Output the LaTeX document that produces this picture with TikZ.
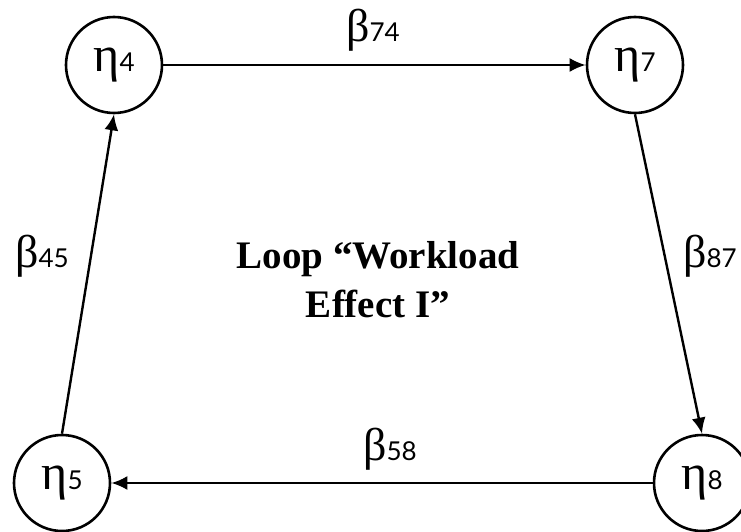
\documentclass[tikz,border=0pt]{standalone}
\usepackage{fontspec}
\setmainfont{Liberation Serif}
\newfontfamily\digitfont{Lato}
\usetikzlibrary{arrows.meta,positioning}

\newcommand{\varname}[1]{{\fontsize{50}{50}\selectfont η}{\digitfont\fontsize{26}{26}\selectfont #1}}
\newcommand{\pathcoef}[1]{{\fontsize{46}{46}\selectfont β}{\digitfont\fontsize{26}{26}\selectfont #1}}

\begin{document}
\begin{tikzpicture}[
  x=1pt, y=-1pt,
  latent/.style={draw, circle, line width=2.6pt, minimum size=96pt, inner sep=0pt},
  coef/.style={anchor=base, inner sep=0pt},
  loopname/.style={align=center, font=\fontsize{39}{49}\selectfont\bfseries},
  path/.style={-{Latex[length=16pt, width=14pt]}, line width=2.4pt}
]
\clip (0,0) rectangle (741,532);

% - latent variables -
\node[latent] (eta4) at (114,65) {\varname{4}};
\node[latent] (eta7) at (635,65) {\varname{7}};
\node[latent] (eta5) at (62,483) {\varname{5}};
\node[latent] (eta8) at (702,483) {\varname{8}};

% - loop title -
\node[loopname] (title) at (378,280) {Loop “Workload\\Effect I”};

% - paths -
\draw[path] (eta4.east) -- (eta7.west);
\draw[path] (eta7.south) -- (eta8.north);
\draw[path] (eta8.west) -- (eta5.east);
\draw[path] (eta5.north) -- (eta4.south);

% - coefficients -
\node[coef] (b74) at (373,42) {\pathcoef{74}};
\node[coef] (b87) at (710,267) {\pathcoef{87}};
\node[coef] (b58) at (390,460) {\pathcoef{58}};
\node[coef] (b45) at (42,267) {\pathcoef{45}};

\end{tikzpicture}
\end{document}
